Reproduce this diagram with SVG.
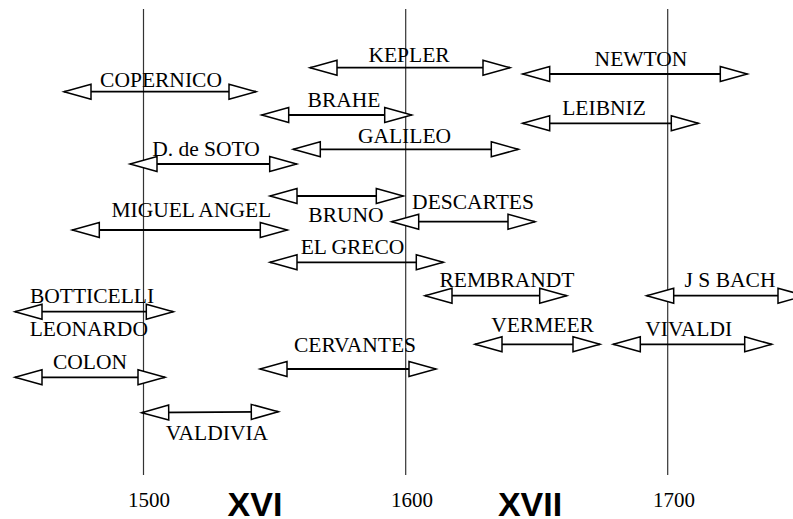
<svg xmlns="http://www.w3.org/2000/svg" width="793" height="519" viewBox="0 0 793 519">
<style>
.lbl{font-family:"Liberation Serif","Times New Roman",serif;font-size:21.5px;fill:#000;text-anchor:middle}
.yr{font-family:"Liberation Serif","Times New Roman",serif;font-size:21px;fill:#000;text-anchor:middle}
.cen{font-family:"Liberation Sans",Arial,sans-serif;font-size:34px;font-weight:bold;fill:#000;text-anchor:middle}
.ax{stroke:#333;stroke-width:1.2}
.ar{stroke:#000;stroke-width:1.8;fill:none;marker-start:url(#h);marker-end:url(#h)}
</style>
<defs>
<marker id="h" viewBox="0 0 29 17" refX="28" refY="8.5" markerWidth="29" markerHeight="17" markerUnits="userSpaceOnUse" orient="auto-start-reverse" overflow="visible">
<path d="M1,1 L28,8.5 L1,16 Z" fill="#fff" stroke="#000" stroke-width="1.5" stroke-linejoin="miter"/>
</marker>
</defs>
<rect width="793" height="519" fill="#fff"/>
<g id="axes">
<line class="ax" x1="143.5" y1="9" x2="143.5" y2="475"/>
<line class="ax" x1="405.7" y1="9" x2="405.7" y2="475"/>
<line class="ax" x1="667.7" y1="9" x2="667.7" y2="475"/>
<text class="yr" x="149" y="507">1500</text>
<text class="yr" x="412" y="507">1600</text>
<text class="yr" x="674" y="507">1700</text>
<text class="cen" x="255" y="516">XVI</text>
<text class="cen" x="530" y="516">XVII</text>
</g>
<g id="connectors">
<path id="a-copernico" class="ar" d="M64,91.7 H256"/>
<path id="a-kepler" class="ar" d="M310,67.7 H510"/>
<path id="a-brahe" class="ar" d="M261.7,115 H411.7"/>
<path id="a-galileo" class="ar" d="M293.3,149.3 H518.3"/>
<path id="a-soto" class="ar" d="M130,164 H296.7"/>
<path id="a-newton" class="ar" d="M522.7,74 H747.3"/>
<path id="a-leibniz" class="ar" d="M522.7,123.3 H698.3"/>
<path id="a-miguel" class="ar" d="M72.3,230 H287.3"/>
<path id="a-bruno" class="ar" d="M270,196 H403.3"/>
<path id="a-descartes" class="ar" d="M391.7,221.7 H535"/>
<path id="a-greco" class="ar" d="M270,262.3 H443.3"/>
<path id="a-rembrandt" class="ar" d="M425,295.7 H566.7"/>
<path id="a-bach" class="ar" d="M646.7,295.7 H805"/>
<path id="a-vermeer" class="ar" d="M475,344.3 H600"/>
<path id="a-vivaldi" class="ar" d="M613.3,344.3 H771.7"/>
<path id="a-botticelli" class="ar" d="M15,311.7 H173.3"/>
<path id="a-cervantes" class="ar" d="M260,369 H436"/>
<path id="a-colon" class="ar" d="M15,377.3 H165"/>
<path id="a-valdivia" class="ar" d="M141.7,412.7 L278.3,411.7"/>
</g>
<g id="copernico"><text class="lbl" x="161" y="86.7">COPERNICO</text></g>
<g id="kepler"><text class="lbl" x="409" y="61.7">KEPLER</text></g>
<g id="brahe"><text class="lbl" x="344" y="106.7">BRAHE</text></g>
<g id="galileo"><text class="lbl" x="404.5" y="143.3">GALILEO</text></g>
<g id="soto"><text class="lbl" x="206" y="156">D. de SOTO</text></g>
<g id="newton"><text class="lbl" x="641" y="65.7">NEWTON</text></g>
<g id="leibniz"><text class="lbl" x="604" y="115">LEIBNIZ</text></g>
<g id="miguel"><text class="lbl" x="191.3" y="216.7">MIGUEL ANGEL</text></g>
<g id="bruno"><text class="lbl" x="346" y="221.7">BRUNO</text></g>
<g id="descartes"><text class="lbl" x="473" y="209.3">DESCARTES</text></g>
<g id="greco"><text class="lbl" x="352.5" y="254">EL GRECO</text></g>
<g id="rembrandt"><text class="lbl" x="507" y="286.7">REMBRANDT</text></g>
<g id="bach"><text class="lbl" x="730" y="286.7">J S BACH</text></g>
<g id="vermeer"><text class="lbl" x="542.5" y="332.3">VERMEER</text></g>
<g id="vivaldi"><text class="lbl" x="688.7" y="335.7">VIVALDI</text></g>
<g id="botticelli"><text class="lbl" x="92" y="303.3">BOTTICELLI</text><text class="lbl" x="88.8" y="335.7">LEONARDO</text></g>
<g id="cervantes"><text class="lbl" x="355" y="351.7">CERVANTES</text></g>
<g id="colon"><text class="lbl" x="90" y="369">COLON</text></g>
<g id="valdivia"><text class="lbl" x="217" y="440">VALDIVIA</text></g>
</svg>
